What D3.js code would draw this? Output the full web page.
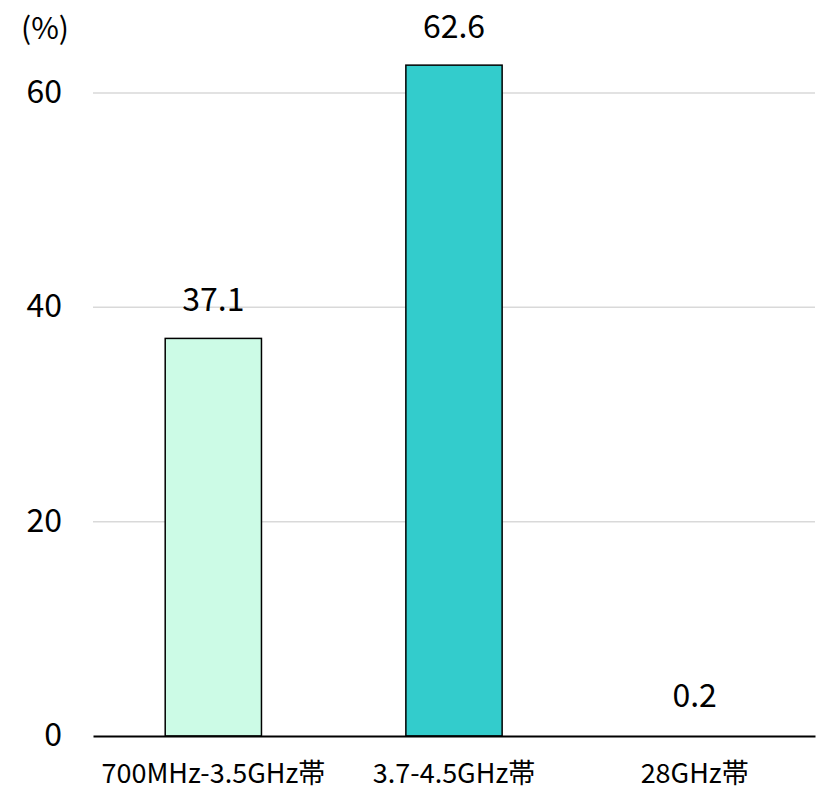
<!DOCTYPE html>
<html>
<head>
<meta charset="utf-8">
<script src="https://cdn.jsdelivr.net/npm/d3@7"></script>
<style>
  html, body { margin: 0; padding: 0; background: #ffffff; }
  svg { display: block; font-family: "Noto Sans CJK JP", "Noto Sans", sans-serif; }
</style>
</head>
<body>
<svg id="chart" width="820" height="792"></svg>
<script>
// Share of base stations by frequency band (%)
const categories = ["700MHz-3.5GHz帯", "3.7-4.5GHz帯", "28GHz帯"];
const values = [37.1, 62.6, 0.2];
const barColors = ["#ccfbe6", "#33cccc", "none"];
const yTicks = [0, 20, 40, 60];
const unitLabel = "(%)";

const svg = d3.select("#chart");
const margin = { top: 93, right: 5, bottom: 56, left: 93 };
const W = 820, H = 792;
const FONT = "'Noto Sans CJK JP', 'Noto Sans', sans-serif";

const x = d3.scaleBand()
  .domain(categories)
  .range([margin.left, W - margin.right])
  .paddingInner(0.6)
  .paddingOuter(0.3);

const y = d3.scaleLinear()
  .domain([0, 60])
  .range([H - margin.bottom, margin.top]);

// Gridlines
svg.append("g")
  .selectAll("line")
  .data(yTicks.filter(d => d !== 0))
  .join("line")
  .attr("x1", margin.left)
  .attr("x2", W - margin.right)
  .attr("y1", d => y(d))
  .attr("y2", d => y(d))
  .attr("stroke", "#d9d9d9")
  .attr("stroke-width", 1.5);

// Y axis labels
const yAxis = d3.axisLeft(y).tickValues(yTicks).tickSize(0).tickPadding(31);
const gy = svg.append("g")
  .attr("transform", `translate(${margin.left},0)`)
  .call(yAxis);
gy.select(".domain").remove();
gy.selectAll("text")
  .attr("font-size", 32)
  .attr("fill", "#000")
  .attr("dy", "0.3em")
  .attr("font-family", FONT);

// Unit label
svg.append("text")
  .attr("x", 45)
  .attr("y", 39)
  .attr("text-anchor", "middle")
  .attr("font-size", 30)
  .attr("fill", "#000")
  .attr("font-family", FONT)
  .text(unitLabel);

// Bars
svg.append("g")
  .selectAll("rect")
  .data(values)
  .join("rect")
  .attr("x", (d, i) => x(categories[i]))
  .attr("width", x.bandwidth())
  .attr("y", d => y(d))
  .attr("height", d => y(0) - y(d))
  .attr("fill", (d, i) => barColors[i])
  .attr("stroke", (d, i) => barColors[i] === "none" ? "none" : "#000")
  .attr("stroke-width", 1.5);

// Value labels
svg.append("g")
  .selectAll("text")
  .data(values)
  .join("text")
  .attr("x", (d, i) => x(categories[i]) + x.bandwidth() / 2)
  .attr("y", d => y(d) - 27)
  .attr("text-anchor", "middle")
  .attr("font-size", 32)
  .attr("fill", "#000")
  .attr("font-family", FONT)
  .text(d => d.toFixed(1));

// X axis
const xAxis = d3.axisBottom(x).tickSize(0).tickPadding(0);
const gx = svg.append("g")
  .attr("transform", `translate(0,${y(0)})`)
  .call(xAxis);
gx.select(".domain")
  .attr("stroke", "#000")
  .attr("stroke-width", 2);
gx.selectAll("text")
  .attr("y", 47)
  .attr("dy", 0)
  .attr("font-size", 27)
  .attr("fill", "#000")
  .attr("font-family", FONT);
</script>
</body>
</html>
